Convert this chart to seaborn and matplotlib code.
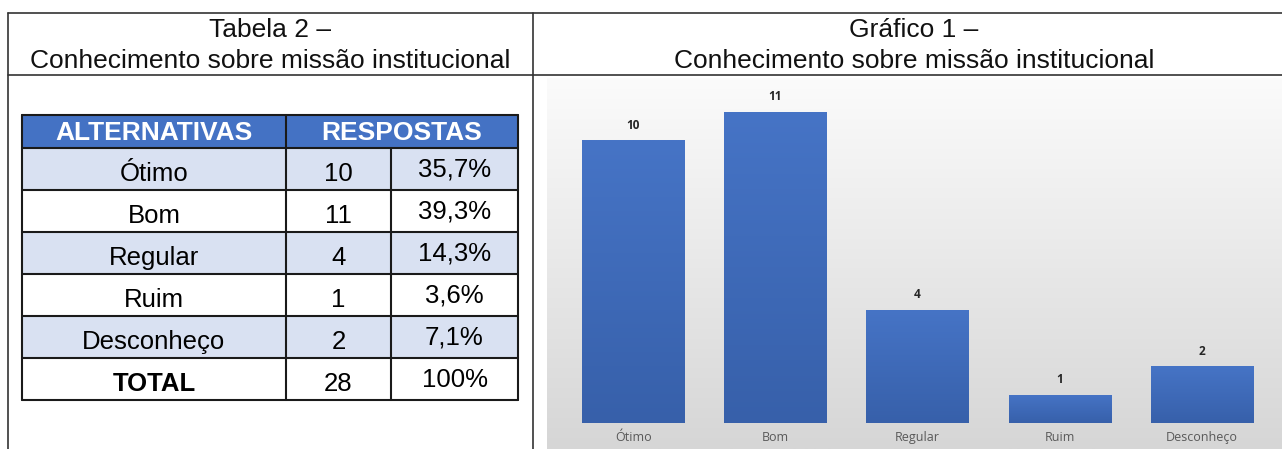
import numpy as np
import pandas as pd
import matplotlib
matplotlib.use("Agg")
import matplotlib.pyplot as plt
import matplotlib.patches as mpatches
import seaborn as sns

# Data
categories = ["Ótimo", "Bom", "Regular", "Ruim", "Desconheço"]
counts = [10, 11, 4, 1, 2]
percents = ["35,7%", "39,3%", "14,3%", "3,6%", "7,1%"]
total_label = "TOTAL"
total_count = 28
total_percent = "100%"

df = pd.DataFrame({"alternativa": categories, "respostas": counts})

sns.set_theme(style="white")
plt.rcParams["font.family"] = ["Liberation Sans", "DejaVu Sans"]

W, H = 1282, 449
fig = plt.figure(figsize=(W / 100, H / 100), dpi=100)


def fig_rect(x0, y0, x1, y1):
    # pixel box (top-left origin) -> figure fraction rect
    return [x0 / W, 1 - y1 / H, (x1 - x0) / W, (y1 - y0) / H]


# chart background gradient
bg = fig.add_axes(fig_rect(547, 78, W, H))
grad = np.linspace(0, 1, 256).reshape(-1, 1)
bg.imshow(grad, aspect="auto", cmap=matplotlib.colors.LinearSegmentedColormap.from_list(
    "bg", ["#fbfbfb", "#d6d6d6"]), extent=[0, 1, 1, 0])
bg.set_axis_off()

# bar chart
ax = fig.add_axes(fig_rect(547, 78, W, 423))
ax.patch.set_alpha(0)
sns.barplot(data=df, x="alternativa", y="respostas", ax=ax, color="#3f68b8",
            width=0.72, saturation=1, edgecolor="none", linewidth=0)
bar_cmap = matplotlib.colors.LinearSegmentedColormap.from_list("bar", ["#4674c6", "#3760aa"])
for p in ax.patches:
    x0, w, h = p.get_x(), p.get_width(), p.get_height()
    im = ax.imshow(grad, aspect="auto", cmap=bar_cmap, extent=[x0, x0 + w, 0, h],
                   origin="upper", zorder=p.get_zorder() + 0.1)
    im.set_clip_path(p)
ax.set_xlim(-0.606, 4.563)
ax.set_ylim(0, 345 / 28.3)
for c in ax.containers:
    ax.bar_label(c, padding=6, fontsize=8.5, fontweight="bold", color="#262626",
                 family=["Open Sans", "DejaVu Sans"])
ax.set_xlabel("")
ax.set_ylabel("")
ax.set_yticks([])
ax.tick_params(axis="x", length=0, pad=6, labelsize=9, labelcolor="#595959")
for lab in ax.get_xticklabels():
    lab.set_family(["Open Sans", "DejaVu Sans"])
sns.despine(ax=ax, left=True, bottom=True)

# overlay for frame, titles and table (pixel coordinates)
ov = fig.add_axes([0, 0, 1, 1])
ov.set_xlim(0, W)
ov.set_ylim(H, 0)
ov.set_axis_off()
ov.patch.set_alpha(0)

frame_kw = dict(color="#333333", lw=1.2)
ov.plot([8, W], [13, 13], **frame_kw)
ov.plot([8, W], [75, 75], **frame_kw)
ov.plot([8, 8], [13, H], **frame_kw)
ov.plot([533, 533], [13, H], **frame_kw)

title_kw = dict(ha="center", va="center", fontsize=19, color="#111111")
ov.text(270, 30, "Tabela 2 –", **title_kw)
ov.text(270, 61, "Conhecimento sobre missão institucional", **title_kw)
ov.text(914, 30, "Gráfico 1 –", **title_kw)
ov.text(914, 61, "Conhecimento sobre missão institucional", **title_kw)

# table
col_x = [22, 286, 391, 518]
head_y = (115, 148)
row_h = 42
ov.add_patch(mpatches.Rectangle((col_x[0], head_y[0]), col_x[3] - col_x[0],
                                head_y[1] - head_y[0], fc="#4472c4", ec="none"))
ov.text((col_x[0] + col_x[1]) / 2, 133, "ALTERNATIVAS", ha="center", va="center",
        fontsize=19, fontweight="bold", color="white")
ov.text((col_x[1] + col_x[3]) / 2, 133, "RESPOSTAS", ha="center", va="center",
        fontsize=19, fontweight="bold", color="white")

rows = list(zip(categories, counts, percents)) + [(total_label, total_count, total_percent)]
for i, (name, n, pct) in enumerate(rows):
    y0 = head_y[1] + i * row_h
    fc = "#d9e1f2" if i % 2 == 0 and i < len(categories) else "white"
    ov.add_patch(mpatches.Rectangle((col_x[0], y0), col_x[3] - col_x[0], row_h,
                                    fc=fc, ec="none"))
    weight = "bold" if name == total_label else "normal"
    ov.text((col_x[0] + col_x[1]) / 2, y0 + 26, name, ha="center", va="center",
            fontsize=18.5, fontweight=weight, color="black")
    ov.text((col_x[1] + col_x[2]) / 2, y0 + 26, str(n), ha="center", va="center",
            fontsize=18.5, color="black")
    ov.text((col_x[2] + col_x[3]) / 2, y0 + 22, pct, ha="center", va="center",
            fontsize=18.5, color="black")

# table grid lines
bottom = head_y[1] + len(rows) * row_h
line_kw = dict(color="#1a1a1a", lw=1.5)
ov.plot([col_x[0], col_x[3]], [head_y[0], head_y[0]], **line_kw)
for i in range(len(rows) + 1):
    y = head_y[1] + i * row_h
    ov.plot([col_x[0], col_x[3]], [y, y], **line_kw)
ov.plot([col_x[0], col_x[0]], [head_y[0], bottom], **line_kw)
ov.plot([col_x[3], col_x[3]], [head_y[0], bottom], **line_kw)
ov.plot([col_x[1], col_x[1]], [head_y[0], bottom], **line_kw)
ov.plot([col_x[2], col_x[2]], [head_y[1], bottom], **line_kw)

fig.savefig("out.png", dpi=100)
